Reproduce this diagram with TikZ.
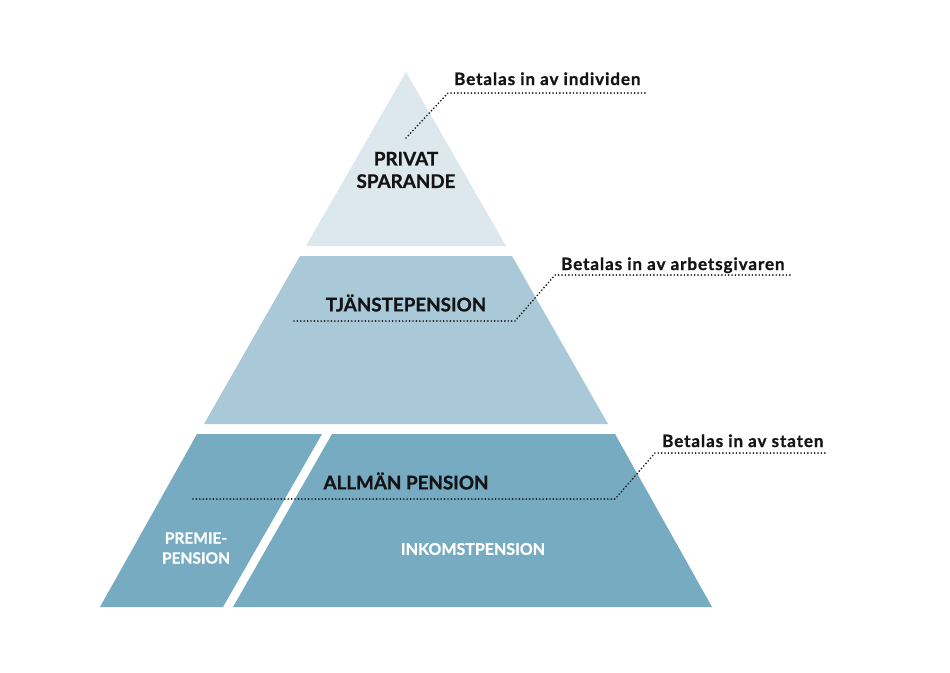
\documentclass[tikz,border=0pt]{standalone}
\usepackage{fontspec}
\setmainfont{Lato}[BoldFeatures={FakeBold=1}]
\definecolor{tierA}{RGB}{221,232,238}
\definecolor{tierB}{RGB}{170,201,216}
\definecolor{tierC}{RGB}{118,171,193}
\begin{document}
\begin{tikzpicture}[x=1pt,y=-1pt,
  leader/.style={line width=1.9pt,dash pattern=on 0pt off 3.4pt,line cap=round,black!90},
  note/.style={font=\fontsize{17}{20}\selectfont\bfseries\addfontfeature{LetterSpace=5.5},anchor=base west,inner sep=0pt,text=black!92},
  tiertitle/.style={font=\fontsize{18.8}{22.5}\selectfont\bfseries,align=center,inner sep=0pt,text=black!92},
  subtitle/.style={font=\bfseries,align=center,inner sep=0pt,text=white}]
\useasboundingbox (0,0) rectangle (950,672);
\fill[white] (0,0) rectangle (950,672);
% tiers
\fill[tierA] (406,72) -- (506,246) -- (306,246) -- cycle;
\fill[tierB] (300,256) -- (512,256) -- (608,424) -- (204,424) -- cycle;
\fill[tierC] (197,434) -- (322,434) -- (223,607) -- (100,607) -- cycle;
\fill[tierC] (332,434) -- (615,434) -- (712,607) -- (233,607) -- cycle;
% texts
\node[tiertitle] (privat) at (406,170) {PRIVAT\\SPARANDE};
\node[tiertitle] (tjanst) at (406,303) {TJÄNSTEPENSION};
\node[tiertitle] (allman) at (406,481) {ALLMÄN PENSION};
\node[subtitle,font=\fontsize{15.5}{20}\selectfont\bfseries] (premie) at (196,548) {PREMIE-\\PENSION};
\node[subtitle,font=\fontsize{16}{20}\selectfont\bfseries] (inkomst) at (473,549) {INKOMSTPENSION};
\node[note] (n1) at (454,85) {Betalas in av individen};
\node[note] (n2) at (561,270) {Betalas in av arbetsgivaren};
\node[note] (n3) at (662,447) {Betalas in av staten};
% leaders
\coordinate (a1) at (406,138);
\coordinate (b1) at (448,93);
\coordinate (c1) at (648,93);
\coordinate (a2) at (294,321);
\coordinate (b2) at (515,321);
\coordinate (c2) at (555,275);
\coordinate (d2) at (792,275);
\coordinate (a3) at (193,499);
\coordinate (b3) at (615,499);
\coordinate (c3) at (655,453);
\coordinate (d3) at (828,453);
\draw[leader] (a1) -- (b1) -- (c1);
\draw[leader] (a2) -- (b2) -- (c2) -- (d2);
\draw[leader] (a3) -- (b3) -- (c3) -- (d3);
\end{tikzpicture}
\end{document}
